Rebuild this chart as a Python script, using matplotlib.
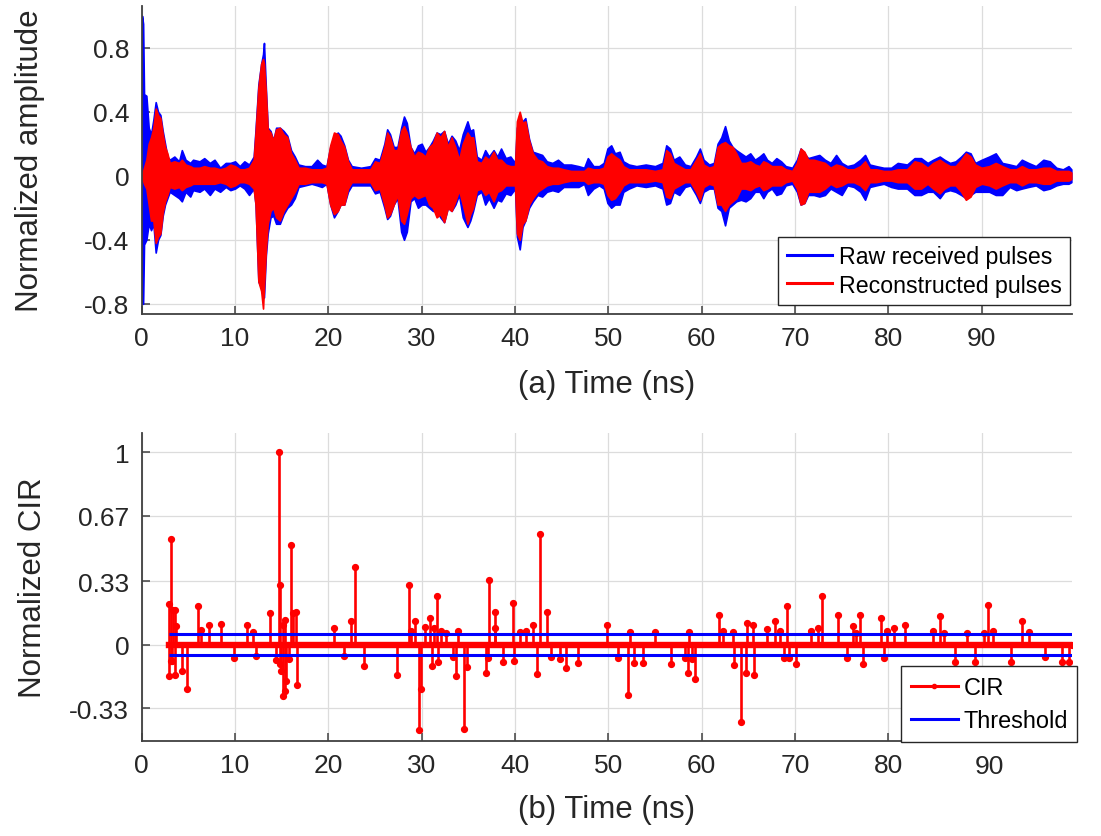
import numpy as np
import matplotlib
matplotlib.use("Agg")
import matplotlib.pyplot as plt
from matplotlib.lines import Line2D
from matplotlib.transforms import blended_transform_factory

plt.rcParams['font.family'] = ['Liberation Sans', 'DejaVu Sans']

# ---- (a) received pulses: envelope (time in ns) ----
t_env = [0.00, 0.03, 0.15, 0.25, 0.50, 0.75, 1.00, 1.25, 1.50, 1.75, 2.00, 2.25, 2.50, 2.75,
         3.00, 3.50, 4.00, 4.30, 4.70, 5.20, 5.50, 6.20, 6.70, 7.30, 7.80, 8.40, 9.00, 9.50,
         10.0, 10.5, 11.0, 11.5, 12.0, 12.2, 12.5, 12.8, 13.0, 13.1, 13.3, 13.5, 13.8, 14.1,
         14.4, 14.8, 15.2, 15.6, 16.0, 16.4, 16.8, 17.5, 18.2, 18.8, 19.3, 19.8, 20.2, 20.6,
         21.0, 21.3, 21.7, 22.1, 22.5, 23.5, 24.5, 25.0, 25.5, 26.0, 26.3, 26.6, 27.0, 27.4,
         27.8, 28.1, 28.4, 28.8, 29.2, 29.6, 30.0, 30.4, 30.8, 31.2, 31.6, 32.0, 32.4, 32.8,
         33.2, 33.6, 34.0, 34.4, 34.9, 35.2, 35.5, 35.9, 36.4, 36.8, 37.2, 37.7, 38.1, 38.5,
         39.0, 39.5, 40.0, 40.2, 40.5, 40.8, 41.1, 41.5, 41.9, 42.4, 42.9, 43.4, 44.0, 44.6,
         45.2, 46.0, 46.8, 47.4, 47.8, 48.4, 49.0, 49.5, 49.9, 50.3, 50.7, 51.2, 51.6, 52.2,
         53.0, 54.0, 55.0, 55.8, 56.2, 56.6, 57.0, 57.6, 58.2, 58.8, 59.4, 59.8, 60.2, 60.8,
         61.3, 61.7, 62.1, 62.5, 62.9, 63.3, 63.7, 64.2, 64.7, 65.2, 65.7, 66.2, 66.6, 67.0,
         67.5, 68.0, 68.5, 69.0, 69.7, 70.2, 70.6, 71.0, 71.4, 72.0, 72.6, 73.2, 73.8, 74.4,
         75.0, 75.6, 76.3, 77.0, 77.5, 78.0, 78.7, 79.5, 80.3, 81.0, 82.0, 82.8, 83.5, 84.2,
         84.8, 85.5, 86.0, 86.6, 87.2, 87.8, 88.3, 88.8, 89.3, 90.0, 90.8, 91.5, 92.2, 93.0,
         93.7, 94.3, 95.0, 95.8, 96.6, 97.3, 98.0, 98.7, 99.3, 99.6]
raw_hi = [0.00, 1.00, 0.95, 0.51, 0.50, 0.30, 0.26, 0.35, 0.46, 0.40, 0.38, 0.28, 0.20, 0.12,
          0.10, 0.12, 0.09, 0.16, 0.10, 0.08, 0.10, 0.09, 0.11, 0.08, 0.10, 0.05, 0.08, 0.08,
          0.09, 0.06, 0.09, 0.07, 0.12, 0.29, 0.57, 0.70, 0.76, 0.83, 0.55, 0.30, 0.28, 0.22,
          0.30, 0.30, 0.28, 0.25, 0.16, 0.12, 0.07, 0.06, 0.06, 0.10, 0.07, 0.06, 0.18, 0.24,
          0.27, 0.25, 0.19, 0.10, 0.06, 0.05, 0.06, 0.11, 0.10, 0.20, 0.29, 0.26, 0.18, 0.18,
          0.30, 0.37, 0.33, 0.18, 0.14, 0.19, 0.20, 0.15, 0.18, 0.22, 0.27, 0.26, 0.28, 0.20,
          0.25, 0.22, 0.16, 0.26, 0.34, 0.28, 0.29, 0.12, 0.10, 0.16, 0.12, 0.16, 0.12, 0.17,
          0.11, 0.12, 0.08, 0.30, 0.36, 0.34, 0.36, 0.23, 0.15, 0.14, 0.13, 0.09, 0.08, 0.10,
          0.07, 0.07, 0.06, 0.05, 0.11, 0.06, 0.06, 0.08, 0.17, 0.19, 0.14, 0.15, 0.09, 0.07,
          0.06, 0.07, 0.06, 0.08, 0.19, 0.17, 0.10, 0.12, 0.07, 0.06, 0.12, 0.17, 0.10, 0.07,
          0.08, 0.20, 0.24, 0.31, 0.22, 0.18, 0.16, 0.14, 0.12, 0.14, 0.10, 0.12, 0.14, 0.10,
          0.08, 0.11, 0.09, 0.06, 0.05, 0.10, 0.17, 0.14, 0.11, 0.12, 0.13, 0.10, 0.08, 0.13,
          0.08, 0.06, 0.07, 0.10, 0.13, 0.07, 0.06, 0.05, 0.05, 0.08, 0.07, 0.11, 0.11, 0.08,
          0.10, 0.12, 0.10, 0.08, 0.09, 0.12, 0.15, 0.14, 0.08, 0.10, 0.12, 0.14, 0.08, 0.07,
          0.06, 0.10, 0.08, 0.06, 0.10, 0.09, 0.05, 0.04, 0.06, 0.04]
raw_lo = [0.00, -0.80, -0.80, -0.43, -0.40, -0.30, -0.34, -0.30, -0.48, -0.40, -0.37, -0.25, -0.18, -0.14,
          -0.10, -0.12, -0.14, -0.16, -0.10, -0.13, -0.09, -0.10, -0.08, -0.12, -0.08, -0.10, -0.07, -0.09,
          -0.08, -0.06, -0.08, -0.12, -0.08, -0.18, -0.66, -0.70, -0.76, -0.76, -0.50, -0.36, -0.26, -0.25,
          -0.30, -0.30, -0.24, -0.20, -0.18, -0.14, -0.07, -0.06, -0.05, -0.06, -0.07, -0.05, -0.18, -0.26,
          -0.22, -0.18, -0.18, -0.10, -0.06, -0.06, -0.06, -0.11, -0.10, -0.20, -0.27, -0.25, -0.18, -0.14,
          -0.35, -0.40, -0.35, -0.16, -0.14, -0.20, -0.18, -0.18, -0.20, -0.22, -0.22, -0.26, -0.29, -0.20,
          -0.22, -0.18, -0.12, -0.26, -0.32, -0.28, -0.22, -0.12, -0.10, -0.18, -0.14, -0.20, -0.15, -0.16,
          -0.11, -0.12, -0.08, -0.38, -0.46, -0.32, -0.28, -0.20, -0.16, -0.12, -0.13, -0.10, -0.09, -0.10,
          -0.07, -0.07, -0.07, -0.05, -0.12, -0.08, -0.06, -0.08, -0.17, -0.20, -0.18, -0.18, -0.10, -0.08,
          -0.06, -0.07, -0.06, -0.08, -0.18, -0.17, -0.10, -0.12, -0.07, -0.06, -0.12, -0.17, -0.10, -0.08,
          -0.08, -0.20, -0.22, -0.31, -0.20, -0.18, -0.16, -0.15, -0.16, -0.14, -0.10, -0.10, -0.14, -0.10,
          -0.08, -0.12, -0.11, -0.06, -0.05, -0.10, -0.18, -0.17, -0.12, -0.12, -0.13, -0.12, -0.08, -0.10,
          -0.12, -0.06, -0.07, -0.10, -0.15, -0.07, -0.06, -0.05, -0.07, -0.08, -0.08, -0.12, -0.12, -0.10,
          -0.10, -0.14, -0.10, -0.09, -0.10, -0.12, -0.14, -0.12, -0.10, -0.10, -0.10, -0.12, -0.12, -0.07,
          -0.09, -0.08, -0.07, -0.06, -0.09, -0.08, -0.06, -0.05, -0.05, -0.04]
rec_hi = [0.00, 0.02, 0.03, 0.05, 0.10, 0.20, 0.24, 0.30, 0.42, 0.38, 0.36, 0.26, 0.18, 0.14,
          0.08, 0.09, 0.08, 0.10, 0.07, 0.06, 0.05, 0.05, 0.06, 0.05, 0.05, 0.04, 0.05, 0.07,
          0.06, 0.04, 0.04, 0.05, 0.10, 0.27, 0.55, 0.70, 0.73, 0.70, 0.52, 0.29, 0.27, 0.22,
          0.29, 0.30, 0.26, 0.24, 0.14, 0.10, 0.05, 0.05, 0.04, 0.04, 0.04, 0.05, 0.19, 0.27,
          0.26, 0.22, 0.18, 0.09, 0.04, 0.04, 0.04, 0.09, 0.08, 0.18, 0.27, 0.24, 0.16, 0.16,
          0.28, 0.31, 0.27, 0.18, 0.12, 0.15, 0.14, 0.12, 0.18, 0.20, 0.27, 0.24, 0.28, 0.18,
          0.24, 0.18, 0.10, 0.20, 0.27, 0.24, 0.24, 0.09, 0.08, 0.12, 0.10, 0.15, 0.10, 0.10,
          0.07, 0.06, 0.06, 0.34, 0.40, 0.33, 0.34, 0.22, 0.14, 0.10, 0.09, 0.06, 0.05, 0.05,
          0.04, 0.03, 0.03, 0.03, 0.05, 0.04, 0.04, 0.05, 0.12, 0.14, 0.12, 0.10, 0.06, 0.04,
          0.04, 0.04, 0.03, 0.04, 0.16, 0.14, 0.08, 0.06, 0.04, 0.04, 0.10, 0.14, 0.07, 0.05,
          0.06, 0.18, 0.20, 0.21, 0.19, 0.18, 0.14, 0.08, 0.08, 0.09, 0.07, 0.06, 0.09, 0.08,
          0.06, 0.06, 0.06, 0.04, 0.03, 0.08, 0.17, 0.15, 0.10, 0.10, 0.09, 0.08, 0.05, 0.07,
          0.06, 0.04, 0.04, 0.06, 0.09, 0.04, 0.04, 0.03, 0.03, 0.04, 0.04, 0.09, 0.08, 0.05,
          0.08, 0.10, 0.08, 0.06, 0.06, 0.10, 0.14, 0.12, 0.07, 0.05, 0.06, 0.08, 0.06, 0.04,
          0.04, 0.06, 0.04, 0.04, 0.05, 0.05, 0.03, 0.03, 0.03, 0.02]
rec_lo = [0.00, -0.02, -0.03, -0.05, -0.08, -0.18, -0.28, -0.28, -0.42, -0.38, -0.36, -0.23, -0.16, -0.12,
          -0.07, -0.08, -0.07, -0.09, -0.07, -0.06, -0.05, -0.05, -0.05, -0.05, -0.05, -0.04, -0.05, -0.07,
          -0.06, -0.04, -0.04, -0.05, -0.08, -0.18, -0.66, -0.72, -0.83, -0.70, -0.47, -0.30, -0.22, -0.20,
          -0.26, -0.28, -0.22, -0.18, -0.14, -0.10, -0.05, -0.05, -0.04, -0.04, -0.04, -0.05, -0.18, -0.24,
          -0.22, -0.18, -0.18, -0.08, -0.04, -0.04, -0.04, -0.09, -0.08, -0.18, -0.26, -0.24, -0.18, -0.12,
          -0.28, -0.30, -0.24, -0.14, -0.12, -0.14, -0.13, -0.12, -0.18, -0.20, -0.26, -0.24, -0.29, -0.20,
          -0.22, -0.16, -0.09, -0.18, -0.30, -0.24, -0.20, -0.09, -0.08, -0.12, -0.10, -0.16, -0.10, -0.09,
          -0.06, -0.06, -0.06, -0.36, -0.40, -0.30, -0.28, -0.18, -0.14, -0.10, -0.08, -0.06, -0.05, -0.05,
          -0.04, -0.03, -0.03, -0.03, -0.05, -0.04, -0.04, -0.05, -0.12, -0.15, -0.14, -0.10, -0.06, -0.04,
          -0.04, -0.04, -0.03, -0.04, -0.13, -0.14, -0.08, -0.06, -0.04, -0.04, -0.10, -0.15, -0.07, -0.05,
          -0.06, -0.18, -0.18, -0.22, -0.18, -0.16, -0.14, -0.08, -0.08, -0.09, -0.07, -0.06, -0.09, -0.08,
          -0.06, -0.06, -0.06, -0.04, -0.03, -0.08, -0.18, -0.17, -0.10, -0.10, -0.10, -0.08, -0.05, -0.07,
          -0.06, -0.04, -0.04, -0.06, -0.09, -0.04, -0.04, -0.03, -0.03, -0.04, -0.04, -0.08, -0.08, -0.05,
          -0.08, -0.11, -0.08, -0.06, -0.06, -0.10, -0.15, -0.13, -0.07, -0.05, -0.06, -0.08, -0.06, -0.04,
          -0.04, -0.06, -0.04, -0.04, -0.05, -0.05, -0.03, -0.03, -0.03, -0.02]

# ---- (b) CIR taps (time in ns, normalized value) ----
cir_t = [2.96, 2.97, 3.14, 3.15, 3.28, 3.39, 3.53, 3.60, 3.64, 4.32, 4.89, 6.00, 6.32, 7.25,
         8.46, 9.89, 11.3, 11.9, 12.2, 13.7, 14.4, 14.75, 14.82, 14.86, 14.96, 15.1, 15.12, 15.3,
         15.4, 15.5, 15.8, 15.96, 16.2, 16.5, 16.6, 20.6, 21.7, 22.4, 22.9, 23.8, 27.3, 28.6,
         28.9, 29.3, 29.75, 29.96, 30.3, 30.9, 31.1, 31.3, 31.6, 31.7, 32.1, 32.6, 33.3, 33.7,
         33.9, 34.57, 34.8, 36.85, 37.1, 37.2, 37.85, 37.9, 38.7, 39.8, 39.9, 40.5, 41.2, 41.9,
         42.3, 42.67, 43.4, 43.8, 44.8, 45.5, 46.7, 49.85, 51.0, 52.1, 52.3, 52.7, 53.7, 55.0,
         56.7, 58.2, 58.5, 58.6, 58.96, 59.25, 61.9, 62.3, 63.3, 63.5, 64.2, 64.7, 64.9, 65.5,
         65.6, 67.0, 67.9, 68.4, 68.8, 69.1, 69.4, 70.1, 71.75, 72.5, 72.9, 74.6, 75.6, 76.25,
         76.5, 76.96, 77.3, 79.25, 79.5, 79.8, 80.6, 81.8, 84.75, 85.5, 86.0, 87.1, 88.4, 89.3,
         90.2, 90.7, 91.25, 93.1, 94.3, 95.1, 96.8, 98.6, 99.3, 99.65]
cir_v = [0.21, -0.163, 0.55, -0.085, -0.085, 0.18, 0.18, -0.16, 0.097, -0.137, -0.232, 0.20, 0.075, 0.10,
         0.106, -0.068, 0.10, 0.066, -0.059, 0.166, -0.08, 1.0, -0.10, 0.31, -0.137, 0.10, -0.27, -0.24,
         0.128, -0.19, -0.073, 0.52, 0.166, 0.17, -0.21, 0.088, -0.062, 0.123, 0.405, -0.113, -0.16, 0.31,
         0.07, 0.123, -0.443, -0.233, 0.092, 0.137, -0.11, 0.088, 0.25, -0.09, 0.07, 0.062, -0.064, -0.163,
         0.071, -0.437, -0.116, -0.15, -0.071, 0.336, 0.088, 0.17, -0.09, 0.215, -0.085, 0.066, 0.071, 0.10,
         -0.154, 0.574, 0.17, -0.064, -0.076, -0.12, -0.094, 0.10, -0.071, -0.26, 0.066, -0.097, -0.097, 0.066,
         -0.099, -0.068, -0.15, 0.066, -0.076, -0.177, 0.154, 0.071, 0.066, -0.106, -0.405, -0.147, 0.11, 0.10,
         -0.16, 0.08, 0.12, 0.071, -0.068, 0.198, -0.068, -0.10, 0.068, 0.088, 0.253, 0.152, -0.068, 0.094,
         0.062, 0.154, -0.099, 0.137, -0.068, 0.071, 0.088, 0.10, 0.071, 0.146, 0.062, -0.09, 0.062, -0.09,
         0.062, 0.206, 0.071, -0.09, 0.12, 0.066, -0.066, -0.09, -0.09, 0.0]
threshold = 0.055
threshold_t = [2.96, 99.65]

top_yticks = [-0.8, -0.4, 0, 0.4, 0.8]
top_ylabels = ['-0.8', '-0.4', '0', '0.4', '0.8']
bot_yticks = [-0.33, 0, 0.33, 0.67, 1]
bot_ylabels = ['-0.33', '0', '0.33', '0.67', '1']
xticks = list(range(0, 100, 10))

BLUE = '#0000FF'
RED = '#FF0000'
TXT = '#262626'
W, H = 1101, 837

fig = plt.figure(figsize=(W / 100, H / 100), dpi=100)
ax1 = fig.add_axes([141.7 / W, 1 - 315 / H, 930 / W, 307.7 / H])
ax2 = fig.add_axes([141.7 / W, 1 - 741.7 / H, 930 / W, 307.7 / H])


def style(ax):
    for side in ('top', 'right'):
        ax.spines[side].set_visible(False)
    for side in ('left', 'bottom'):
        ax.spines[side].set_color('#404040')
        ax.spines[side].set_linewidth(1.3)
    ax.grid(True, color='#dcdcdc', linewidth=0.9)
    ax.set_axisbelow(True)
    ax.tick_params(direction='in', length=6, width=1.1, color='#404040',
                   labelsize=19, labelcolor=TXT, pad=9)
    ax.set_xlim(0, 99.64)
    ax.set_xticks(xticks)


# (a)
style(ax1)
ax1.fill_between(t_env, raw_lo, raw_hi, color=BLUE, lw=1.2, edgecolor=BLUE)
ax1.fill_between(t_env, rec_lo, rec_hi, color=RED, lw=1.2, edgecolor=RED)
ax1.set_ylim(-0.864, 1.059)
ax1.set_yticks(top_yticks)
ax1.set_yticklabels(top_ylabels)
ax1.set_xticklabels([str(v) for v in xticks])
ax1.set_xlabel('(a) Time (ns)', fontsize=22.5, color=TXT, va='center')
ax1.xaxis.set_label_coords(0.5, (315 - 385) / 307.7)
ax1.set_ylabel('Normalized amplitude', fontsize=22.5, color=TXT, va='center')
ax1.yaxis.set_label_coords((30 - 141.7) / 930, 0.5)
h_a = [Line2D([], [], color=BLUE, lw=2.2), Line2D([], [], color=RED, lw=2.2)]
leg1 = ax1.legend(h_a, ['Raw received pulses', 'Reconstructed pulses'],
                  loc='lower right', bbox_to_anchor=(1069.7 / W, 1 - 305.7 / H),
                  bbox_transform=fig.transFigure, borderaxespad=0, fontsize=16.7,
                  fancybox=False, framealpha=1, edgecolor=TXT, handlelength=1.95,
                  handletextpad=0.3, labelspacing=0.25, borderpad=0.35)
leg1.get_frame().set_linewidth(1.0)

# (b)
style(ax2)
markers, stems, base = ax2.stem(cir_t, cir_v, linefmt='-', markerfmt='o', basefmt='-')
plt.setp(stems, color=RED, linewidth=1.9)
plt.setp(markers, color=RED, markersize=4.2)
plt.setp(base, color=RED, linewidth=4.6)
ax2.hlines([threshold, -threshold], threshold_t[0], threshold_t[1], colors=BLUE, linewidth=2.2)
ax2.set_ylim(-0.5, 1.1)
ax2.set_yticks(bot_yticks)
ax2.set_yticklabels(bot_ylabels)
ax2.set_xticklabels([str(v) if v != 90 else '' for v in xticks])
ax2.text(90.86, (741.7 - 766.7) / 307.7, '90', fontsize=19, color=TXT,
         ha='center', va='center', transform=blended_transform_factory(ax2.transData, ax2.transAxes))
ax2.set_xlabel('(b) Time (ns)', fontsize=22.5, color=TXT, va='center')
ax2.xaxis.set_label_coords(0.5, (741.7 - 810) / 307.7)
ax2.set_ylabel('Normalized CIR', fontsize=22.5, color=TXT, va='center')
ax2.yaxis.set_label_coords((33 - 141.7) / 930, 0.5)
h_b = [Line2D([], [], color=RED, lw=2.2, marker='o', markersize=3),
       Line2D([], [], color=BLUE, lw=2.2)]
leg2 = ax2.legend(h_b, ['CIR', 'Threshold'],
                  loc='lower right', bbox_to_anchor=(1077.3 / W, 1 - 742.7 / H),
                  bbox_transform=fig.transFigure, borderaxespad=0, fontsize=16.9,
                  fancybox=False, framealpha=1, edgecolor=TXT, handlelength=2.0,
                  handletextpad=0.25, labelspacing=0.45, borderpad=0.4)
leg2.get_frame().set_linewidth(1.0)

fig.savefig('out.png', dpi=100)
